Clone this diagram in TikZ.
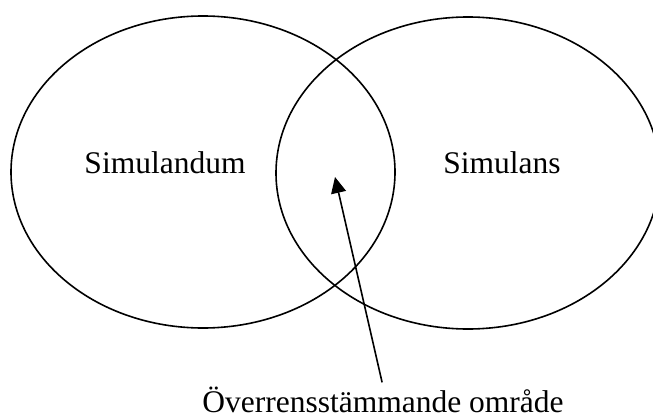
\documentclass[tikz,border=0pt]{standalone}
\usepackage{fontspec}
\setmainfont{Liberation Serif}
\usepackage{tikz}
\usetikzlibrary{arrows.meta,shapes.geometric}
\colorlet{ink}{black}
\tikzset{
  >={Triangle[length=16pt,width=15pt]},
  arrow/.style={-{Triangle[length=16pt,width=15pt]}, draw=ink, line width=1.6pt},
  setring/.style={
    ellipse,
    draw=ink,
    line width=1.6pt,
    inner sep=0pt,
    minimum width=384pt,
    minimum height=312pt
  },
  setlabel/.style={
    anchor=base,
    inner sep=0pt,
    text=ink,
    font=\fontsize{31.5}{36}\selectfont
  }
}

\begin{document}
\begin{tikzpicture}[x=1pt,y=-1pt]
  \useasboundingbox (0,0) rectangle (653,420);

  \node[setring] (simulandum) at (203,172) {};
  \node[setring] (simulans) at (468,173) {};

  \node[setlabel] (simulandumtext) at (165,173) {Simulandum};
  \node[setlabel] (simulanstext) at (502,173) {Simulans};
  \node[setlabel] (overlap) at (383,412) {Överrensstämmande område};

  \coordinate (overlaptip) at (335,177);
  \draw[arrow, shorten <=4pt] (overlap.north) -- (overlaptip);
\end{tikzpicture}
\end{document}
